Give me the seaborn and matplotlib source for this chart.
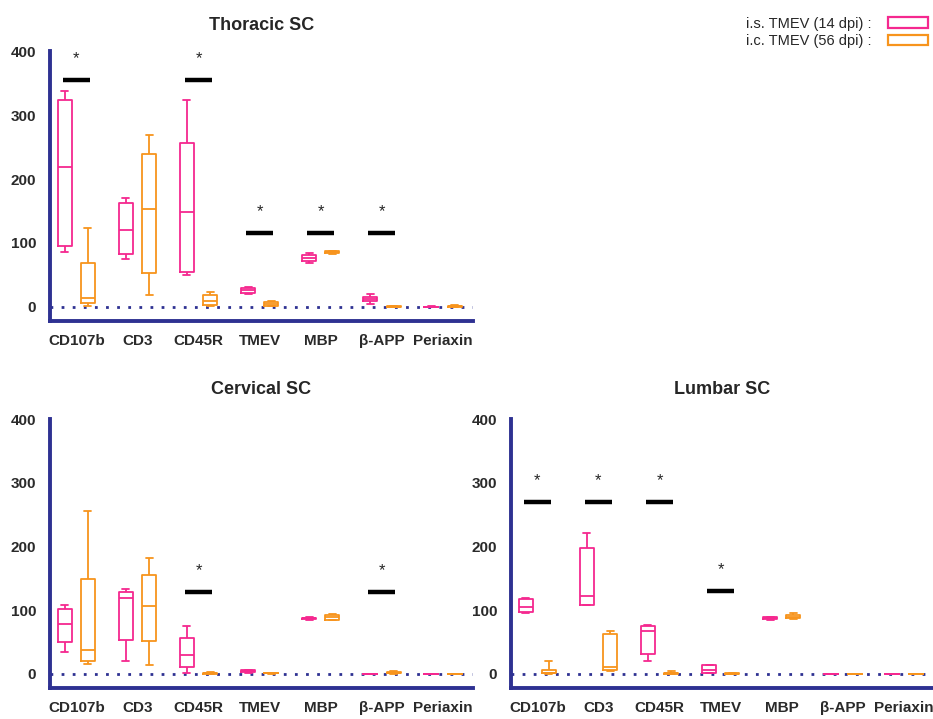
import numpy as np
import pandas as pd
import seaborn as sns
from matplotlib import pyplot as plt
from matplotlib.patches import Patch

sns.set_style("white")
plt.rcParams['font.family'] = ['Liberation Sans', 'DejaVu Sans']

markers = ["CD107b", "CD3", "CD45R", "TMEV", "MBP", "β-APP", "Periaxin"]
groups = ["i.s. TMEV (14 dpi) :", "i.c. TMEV (56 dpi) :"]
pink = "#F5288F"
orange = "#F7941D"
navy = "#2E3192"

# min, q1, median, q3, max for each marker
thoracic_is = [[86, 96, 218, 323, 338], [75, 83, 121, 162, 171], [50, 55, 149, 256, 323],
               [20, 22, 26, 30, 31], [69, 72, 76.5, 81, 84], [5, 9, 13, 15, 20], [0, 0, 0, 0.5, 1]]
thoracic_ic = [[2, 6, 14, 69, 124], [19, 53, 153, 239, 268], [1, 3, 10, 19, 23],
               [1, 2, 4, 7, 9], [83, 85, 86, 87, 88], [0, 0, 0.5, 1, 1], [0, 0, 1, 2, 3]]
cervical_is = [[35, 49.5, 78, 102, 108], [21, 53, 120, 129, 133], [1, 11, 30, 57, 75],
               [2, 3, 4, 6, 7], [85, 86, 87.5, 88, 90], [0, 0, 0, 0, 0.5], [0, 0, 0, 0, 0.5]]
cervical_ic = [[16, 20, 37, 149, 256], [14, 51, 106, 155, 182], [0, 0, 1, 2, 3],
               [0, 1, 1, 2, 2], [84, 85.5, 89.5, 93, 94], [0, 1, 2, 3, 4], [0, 0, 0, 0, 0.5]]
lumbar_is = [[96, 97, 105, 117, 119], [108, 109, 123, 198, 221], [20, 31, 68, 76, 77],
             [1, 2, 7, 13.5, 14.6], [85, 86.5, 87.5, 89, 90], [0, 0, 0, 0, 0.5], [0, 0, 0, 0, 0.5]]
lumbar_ic = [[0.5, 1, 2, 6, 20], [5, 7, 11, 62.5, 68], [0, 0, 1, 2, 5],
             [0, 0, 0.5, 1, 1], [86.5, 87.5, 89.5, 93, 96], [0, 0, 0, 0, 0.5], [0, 0, 0, 0, 0.5]]

# significance bars: marker -> bar height
thoracic_sig = {"CD107b": 355, "CD45R": 355, "TMEV": 115, "MBP": 115, "β-APP": 115}
cervical_sig = {"CD45R": 128, "β-APP": 128}
lumbar_sig = {"CD107b": 270, "CD3": 270, "CD45R": 270, "TMEV": 130}


def make_df(is_vals, ic_vals):
    rows = []
    for m, a, b in zip(markers, is_vals, ic_vals):
        for v in a:
            rows.append((m, groups[0], v))
        for v in b:
            rows.append((m, groups[1], v))
    return pd.DataFrame(rows, columns=["marker", "group", "value"])


def panel(ax, df, sig, title, pad):
    ax.axhline(0, ls=(0, (1, 3)), lw=2, color=navy, zorder=0)
    sns.boxplot(data=df, x="marker", y="value", hue="group", order=markers, hue_order=groups,
                palette={groups[0]: pink, groups[1]: orange}, fill=False, whis=(0, 100),
                width=0.76, gap=0.4, linewidth=1.3, legend=False, ax=ax)
    for m, h in sig.items():
        i = markers.index(m)
        ax.hlines(h, i - 0.22, i + 0.22, color="black", lw=3.2)
        ax.text(i, h + 22, "*", ha="center", va="bottom", fontsize=12)
    ax.set_ylim(-22, 400)
    ax.set_xlim(-0.43, 6.49)
    ax.set_yticks([0, 100, 200, 300, 400])
    ax.set_xlabel("")
    ax.set_ylabel("")
    ax.set_title(title, fontsize=13, fontweight="bold", pad=pad)
    for s in ["top", "right"]:
        ax.spines[s].set_visible(False)
    for s in ["left", "bottom"]:
        ax.spines[s].set_color(navy)
        ax.spines[s].set_linewidth(2.8)
    ax.tick_params(axis="y", length=8, width=2.4, color=navy, labelsize=11, pad=2)
    ax.tick_params(axis="x", length=6, width=2.4, color=navy, labelsize=11, pad=3)
    for lab in ax.get_xticklabels() + ax.get_yticklabels():
        lab.set_fontweight("bold")
        lab.set_color("#2a2a2a")


fig = plt.figure(figsize=(9.33, 7.19), dpi=100)
ax1 = fig.add_axes([0.0536, 0.5535, 0.4534, 0.3755])
ax2 = fig.add_axes([0.0536, 0.0431, 0.4534, 0.374])
ax3 = fig.add_axes([0.5477, 0.0431, 0.4534, 0.374])

panel(ax1, make_df(thoracic_is, thoracic_ic), thoracic_sig, "Thoracic SC", 15)
panel(ax2, make_df(cervical_is, cervical_ic), cervical_sig, "Cervical SC", 18)
panel(ax3, make_df(lumbar_is, lumbar_ic), lumbar_sig, "Lumbar SC", 18)

handles = [Patch(facecolor="white", edgecolor=pink, lw=1.6),
           Patch(facecolor="white", edgecolor=orange, lw=1.6)]
fig.legend(handles, groups, loc="upper right", bbox_to_anchor=(0.995, 0.977), frameon=False,
           markerfirst=False, fontsize=10.5, handlelength=2.8, handleheight=0.7,
           handletextpad=1.1, labelspacing=0.25, borderaxespad=0, borderpad=0)

fig.savefig("out.png", dpi=100)
